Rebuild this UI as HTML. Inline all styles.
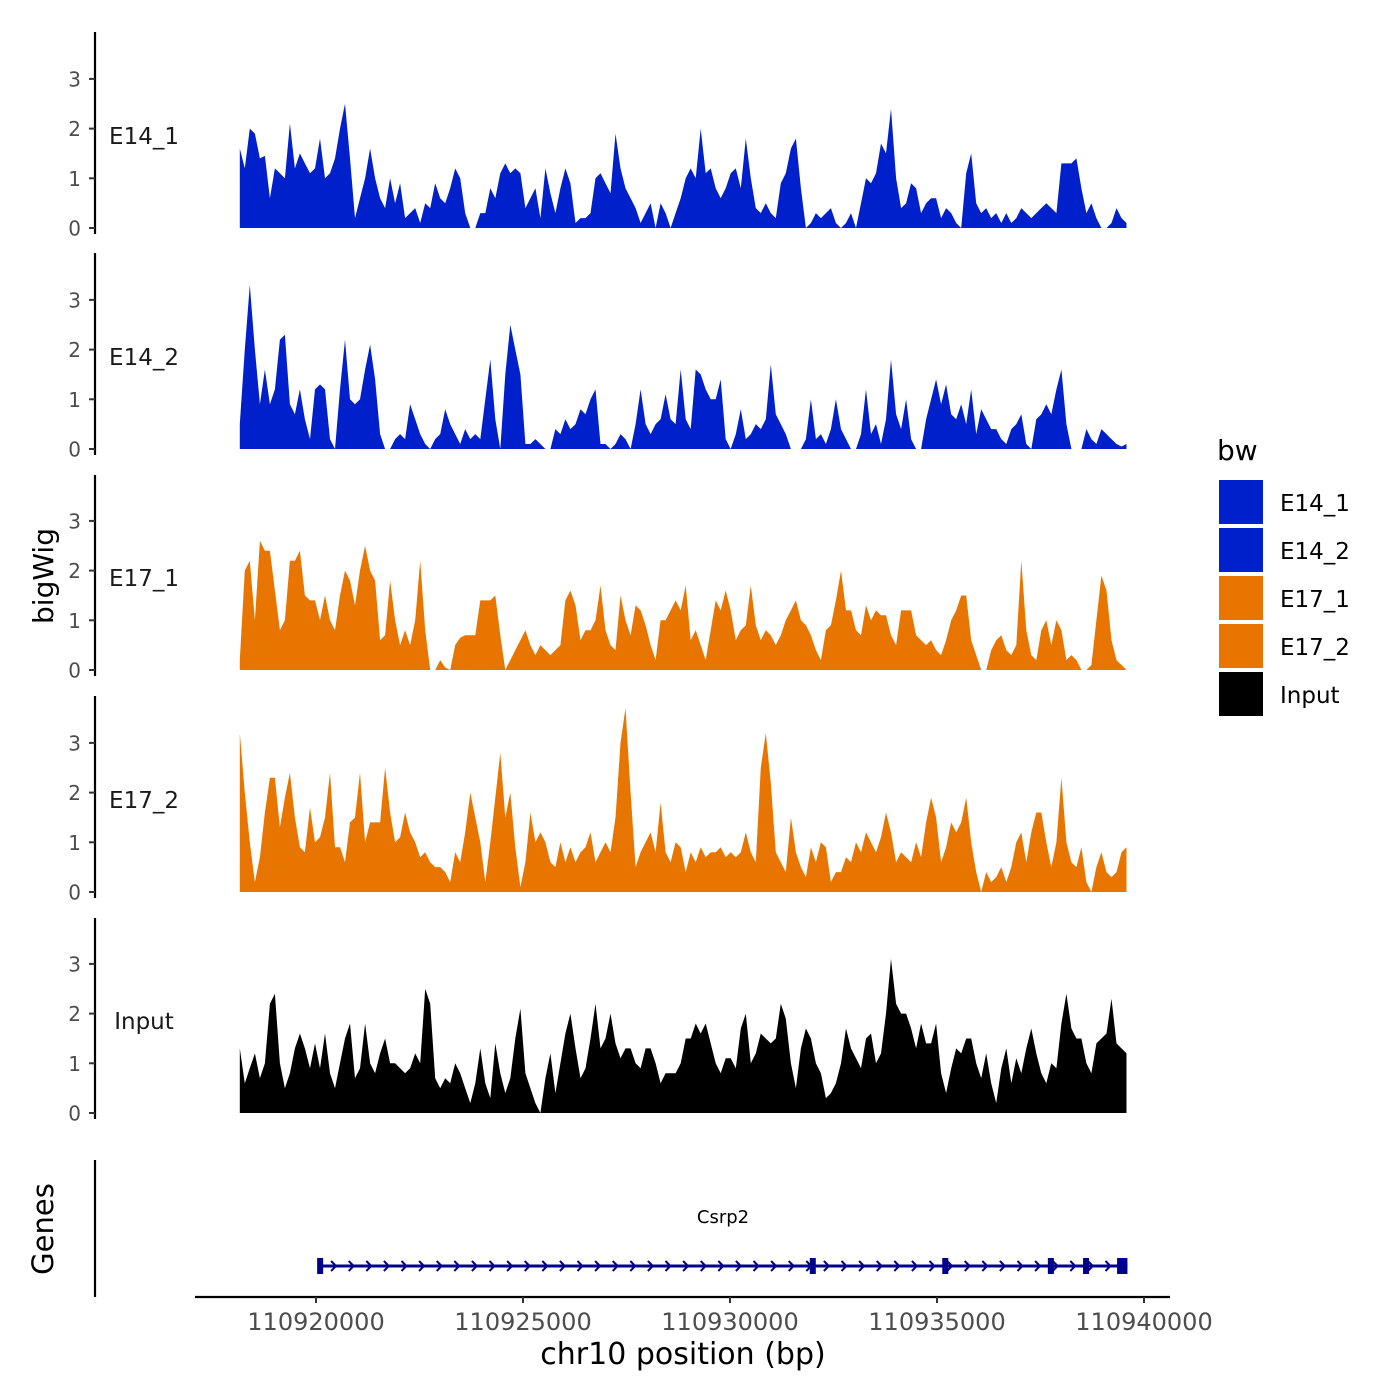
<!DOCTYPE html>
<html><head><meta charset="utf-8"><style>
body{margin:0;background:#fff;}
svg{display:block;font-family:"DejaVu Sans","Liberation Sans",sans-serif;}
</style></head><body>
<svg id="chart" width="1400" height="1400" viewBox="0 0 1400 1400"></svg>
<script>
const trackNames=["E14_1","E14_2","E17_1","E17_2","Input"];
const trackColors=["#0020CC","#0020CC","#E87500","#E87500","#000000"];
const yTicks=[0,1,2,3];
const xTicks=[110920000,110925000,110930000,110935000,110940000];
const binStart=110918160;
const binStep=121;
const e14_1=[1.6,1.2,2.0,1.9,1.4,1.45,0.6,1.2,1.1,1.0,2.1,1.2,1.5,1.3,1.1,1.2,1.8,1.0,1.1,1.4,2.0,2.5,1.4,0.2,0.6,1.0,1.6,1.0,0.6,0.4,1.0,0.5,0.9,0.2,0.3,0.4,0.1,0.5,0.4,0.9,0.6,0.5,0.8,1.2,1.0,0.3,0,0,0.3,0.3,0.8,0.6,1.1,1.3,1.1,1.2,1.1,0.4,0.6,0.8,0.2,1.2,0.7,0.3,0.8,1.2,0.9,0.1,0.2,0.2,0.3,1.0,1.1,0.9,0.7,1.9,1.2,0.8,0.6,0.4,0.1,0.3,0.5,0,0.5,0.3,0,0.3,0.6,1.0,1.2,1.0,2.0,1.1,1.2,0.8,0.6,0.8,1.1,1.2,0.8,1.8,1.0,0.4,0.3,0.5,0.3,0.2,0.9,1.1,1.6,1.8,0.8,0,0.1,0.3,0.2,0.3,0.4,0.1,0,0.1,0.3,0,0.5,1.0,0.9,1.1,1.7,1.5,2.4,1.0,0.4,0.5,0.9,0.8,0.3,0.5,0.6,0.6,0.2,0.4,0.3,0.1,0,1.1,1.5,0.5,0.3,0.4,0.2,0.3,0.1,0.3,0.1,0.2,0.4,0.3,0.2,0.3,0.4,0.5,0.4,0.3,1.3,1.3,1.3,1.4,0.8,0.3,0.5,0.2,0,0,0.1,0.4,0.2,0.1];
const e14_2=[0.5,2.0,3.3,2.0,0.9,1.6,0.9,1.2,2.2,2.3,0.9,0.7,1.2,0.6,0.2,1.2,1.3,1.2,0.2,0,1.2,2.2,1.0,0.9,1.0,1.6,2.1,1.4,0.3,0,0,0.2,0.3,0.2,0.9,0.6,0.3,0.1,0,0.2,0.3,0.8,0.5,0.3,0.1,0.4,0.2,0.3,0.2,1.0,1.8,0.6,0,1.5,2.5,2.0,1.5,0.1,0.1,0.2,0.1,0,0,0.4,0.3,0.6,0.4,0.5,0.8,0.7,1.0,1.2,0.1,0.1,0,0.1,0.3,0.2,0,0.5,1.2,0.5,0.3,0.5,0.6,1.1,0.6,0.5,1.6,0.6,0.4,1.6,1.5,1.2,1.0,1.0,1.4,0.2,0,0.3,0.8,0.2,0.3,0.5,0.4,0.6,1.7,0.7,0.5,0.3,0,0,0,0.2,1.0,0.2,0.3,0.1,0.4,1.0,0.4,0.2,0,0,0.3,1.2,0.3,0.5,0.1,0.6,1.8,0.7,0.4,1.0,0.2,0,0,0.6,1.0,1.4,0.9,1.3,0.7,0.6,0.9,0.5,1.2,0.3,0.8,0.6,0.4,0.4,0.2,0.1,0.4,0.5,0.7,0.1,0,0.6,0.7,0.9,0.7,1.2,1.6,0.5,0,0,0,0.4,0.2,0.1,0.4,0.3,0.2,0.1,0.05,0.1];
const e17_1=[0.2,2.0,2.2,1.0,2.6,2.4,2.4,1.6,0.8,1.0,2.2,2.2,2.4,1.5,1.4,1.4,1.0,1.5,1.0,0.8,1.5,2.0,1.8,1.3,2.0,2.5,2.0,1.8,0.6,0.7,1.8,1.0,0.5,0.8,0.5,1.0,2.2,0.8,0,0,0.2,0.05,0,0.5,0.65,0.7,0.7,0.7,1.4,1.4,1.4,1.5,0.7,0,0.2,0.4,0.6,0.8,0.5,0.3,0.5,0.4,0.3,0.4,0.5,1.4,1.6,1.3,0.6,0.8,0.8,1.0,1.7,0.8,0.5,0.4,1.5,1.0,0.7,1.3,1.2,0.9,0.5,0.2,1.0,1.0,1.2,1.4,1.2,1.7,0.6,0.8,0.5,0.2,0.8,1.4,1.2,1.6,1.2,0.6,0.8,0.9,1.7,0.9,0.6,0.8,0.7,0.5,0.7,1.0,1.2,1.4,1.0,0.9,0.7,0.4,0.2,0.8,0.9,1.4,2.0,1.2,1.2,0.8,0.7,1.3,1.0,1.2,1.1,1.1,0.7,0.5,1.2,1.2,1.2,0.7,0.6,0.5,0.6,0.4,0.3,0.6,1.0,1.2,1.5,1.5,0.6,0.3,0,0,0.4,0.6,0.7,0.4,0.3,0.5,2.2,0.8,0.3,0.2,0.8,1.0,0.5,1.0,0.8,0.2,0.3,0.2,0,0,0.1,1.0,1.9,1.6,0.6,0.2,0.1,0];
const e17_2=[3.2,2.0,1.0,0.2,0.7,1.6,2.3,2.3,1.3,1.9,2.4,1.5,0.9,0.8,1.7,1.0,1.1,1.5,2.4,0.9,0.9,0.6,1.4,1.5,2.4,1.0,1.4,1.4,1.4,2.5,1.6,1.0,1.1,1.6,1.2,1.0,0.7,0.8,0.6,0.5,0.5,0.4,0.2,0.8,0.6,1.2,2.0,1.5,1.0,0.2,1.0,1.9,2.8,1.5,2.0,0.9,0.1,0.6,1.6,1.0,1.2,1.0,0.6,0.5,1.0,0.6,0.9,0.6,0.8,0.9,1.2,0.6,0.8,1.0,0.8,1.5,3.0,3.7,2.0,0.5,0.8,1.0,1.2,0.8,1.8,0.8,0.6,1.0,0.9,0.4,0.8,0.6,0.9,0.7,0.8,0.8,0.9,0.7,0.8,0.7,0.8,1.2,0.8,0.6,2.5,3.2,2.2,0.8,0.6,0.4,1.5,0.8,0.5,0.3,0.9,0.6,1.0,0.9,0.2,0.4,0.4,0.7,0.6,1.0,0.8,1.2,1.0,0.8,1.1,1.6,1.2,0.6,0.8,0.7,0.6,1.0,0.7,1.4,1.9,1.5,0.6,0.9,1.4,1.2,1.4,1.9,1.0,0.4,0,0.4,0.2,0.3,0.5,0.2,0.5,1.0,1.2,0.6,1.2,1.6,1.6,1.0,0.5,1.0,2.3,1.0,0.6,0.5,0.9,0.2,0,0.5,0.8,0.4,0.3,0.4,0.8,0.9];
const input=[1.3,0.6,0.9,1.2,0.7,1.0,2.2,2.4,1.0,0.5,0.8,1.3,1.6,1.3,0.9,1.4,0.9,1.6,0.8,0.5,1.0,1.5,1.8,0.7,0.9,1.8,1.0,0.8,1.2,1.5,1.0,1.0,0.9,0.8,0.9,1.2,1.0,2.5,2.2,0.7,0.5,0.7,0.6,1.0,0.8,0.5,0.2,0.6,1.3,0.6,0.3,1.4,0.8,0.4,0.7,1.5,2.1,0.8,0.5,0.2,0,0.7,1.2,0.4,1.0,1.6,2.0,1.3,0.7,0.9,1.5,2.2,1.3,1.5,2.0,1.4,1.1,1.3,1.3,1.0,0.9,1.3,1.3,1.0,0.6,0.8,0.8,0.8,1.0,1.5,1.5,1.8,1.6,1.8,1.4,1.0,0.8,1.1,1.1,0.9,1.7,2.0,1.0,1.2,1.6,1.5,1.4,1.5,2.2,1.9,1.0,0.5,1.3,1.7,1.5,1.0,0.8,0.3,0.4,0.6,1.0,1.7,1.3,1.1,0.9,1.5,1.6,1.0,1.2,2.0,3.1,2.2,2.0,2.0,1.7,1.3,1.8,1.4,1.4,1.8,0.8,0.4,0.9,1.3,1.2,1.5,1.5,1.0,0.7,1.2,0.6,0.2,0.9,1.3,0.6,1.1,0.8,1.3,1.7,1.2,0.8,0.6,1.0,0.9,1.8,2.4,1.7,1.5,1.5,1.0,0.8,1.4,1.5,1.6,2.3,1.4,1.3,1.2];
const trackValues=[e14_1,e14_2,e17_1,e17_2,input];
const geneStart=110920050, geneEnd=110939600;
const exonPositions=[110920100,110932000,110935200,110937750,110938600];
const lastExon=[110939350,110939600];

const NS="http://www.w3.org/2000/svg";
const svg=document.getElementById('chart');
function el(tag,attrs,parent){const e=document.createElementNS(NS,tag);for(const k in attrs)e.setAttribute(k,attrs[k]);(parent||svg).appendChild(e);return e;}
function xs(bp){return 316+(bp-110920000)*0.0414;}
const panelTop=[32,253,475,696,918];
const base=[228,449,670,892,1113];
const unit=49.7;

trackNames.forEach((name,t)=>{
  const g=el('g',{});
  
  
  const ys=v=>base[t]-v*unit;
  const vals=trackValues[t];
  let d='M'+xs(binStart).toFixed(1)+','+base[t];
  vals.forEach((v,i)=>{d+=' L'+xs(binStart+i*binStep).toFixed(1)+','+ys(v).toFixed(1);});
  d+=' L'+xs(binStart+(vals.length-1)*binStep).toFixed(1)+','+base[t]+' Z';
  const p=el('path',{d:d,fill:trackColors[t]},g);
  
  
  const ax=el('line',{x1:95,x2:95,y1:panelTop[t],y2:base[t]+6,stroke:'#000','stroke-width':2.2},g);
  
  
  yTicks.forEach(v=>{
    el('line',{x1:89,x2:95,y1:ys(v),y2:ys(v),stroke:'#333','stroke-width':2},g);
    const tx=el('text',{x:81,y:ys(v)+7.5,'text-anchor':'end','font-size':20,fill:'#4d4d4d'},g);
    tx.textContent=v;
    
    
  });
  const lb=el('text',{x:144,y:base[t]-84,'text-anchor':'middle','font-size':23,fill:'#1a1a1a'},g);
  lb.textContent=name;
  
  
});

const yt=el('text',{x:0,y:0,'font-size':28,'text-anchor':'middle',transform:'translate(53,576) rotate(-90)'});
yt.textContent='bigWig';


const gt=el('text',{x:0,y:0,'font-size':29,'text-anchor':'middle',transform:'translate(53,1229) rotate(-90)'});
gt.textContent='Genes';



el('line',{x1:95,x2:95,y1:1160,y2:1297,stroke:'#000','stroke-width':2.2});
const xl=el('line',{x1:195,x2:1170,y1:1297,y2:1297,stroke:'#000','stroke-width':2.2});


xTicks.forEach(b=>{
  el('line',{x1:xs(b),x2:xs(b),y1:1297,y2:1303,stroke:'#333','stroke-width':2});
  const t=el('text',{x:xs(b),y:1330,'text-anchor':'middle','font-size':24,fill:'#4d4d4d'});
  t.textContent=b;
  
  
});
const xt=el('text',{x:683,y:1364,'text-anchor':'middle','font-size':30});
xt.textContent='chr10 position (bp)';



const gene=el('g',{});


const gy=1266;
el('line',{x1:xs(geneStart),x2:xs(geneEnd),y1:gy,y2:gy,stroke:'#00008B','stroke-width':3},gene);
for(let x=xs(geneStart)+16;x<xs(geneEnd)-10;x+=17.6){
  el('polyline',{points:(x-3)+','+(gy-5)+' '+(x+2)+','+gy+' '+(x-3)+','+(gy+5),fill:'none',stroke:'#00008B','stroke-width':2},gene);
}
exonPositions.forEach(b=>{el('rect',{x:xs(b)-3,y:gy-8,width:6,height:16,fill:'#00008B'},gene);});
el('rect',{x:xs(lastExon[0]),y:gy-8,width:xs(lastExon[1])-xs(lastExon[0]),height:16,fill:'#00008B'},gene);
const gl=el('text',{x:723,y:1223,'text-anchor':'middle','font-size':18},gene);
gl.textContent='Csrp2';



const lg=el('g',{});


const lt=el('text',{x:1217,y:460,'font-size':28},lg);
lt.textContent='bw';
trackNames.forEach((n,i)=>{
  const e=el('g',{},lg);
  
  
  el('rect',{x:1219,y:480+i*48,width:44,height:44,fill:trackColors[i]},e);
  const tx=el('text',{x:1280,y:480+i*48+31,'font-size':23},e);
  tx.textContent=n;
});
</script>
</body></html>
